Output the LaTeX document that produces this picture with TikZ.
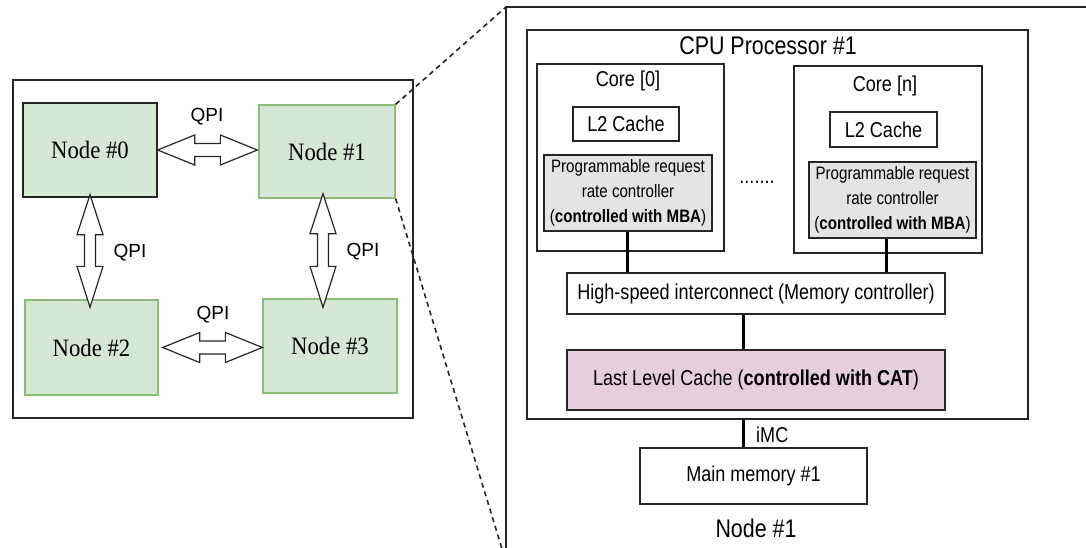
\documentclass[tikz,border=0pt]{standalone}
\usepackage{fontspec}
\setmainfont[FakeStretch=0.84]{Liberation Sans}
\newfontfamily\plainsans{Liberation Sans}
\newfontfamily\nodeserif[FakeStretch=0.91]{Liberation Serif}
\usetikzlibrary{calc}

\definecolor{nodegreen}{HTML}{D5E8D4}
\definecolor{nodegreenline}{HTML}{8DBB78}
\definecolor{llcpink}{HTML}{E6CEDD}
\definecolor{ctrlgray}{HTML}{E4E4E4}

\tikzset{
  frame/.style={draw=black!85, line width=1.8pt},
  numa/.style={draw=nodegreenline, line width=1.3pt, fill=nodegreen, inner sep=0pt,
    font=\nodeserif\fontsize{25}{28}\selectfont},
  unit/.style={draw=black!85, line width=1.4pt, inner sep=0pt, fill=white},
  ctrl/.style={unit, fill=ctrlgray, align=center,
    font=\fontsize{18}{25}\selectfont},
  lbl/.style={inner sep=0pt},
  txt/.style={font=\fontsize{21.5}{24}\selectfont},
  big/.style={font=\fontsize{25.5}{28}\selectfont},
  qpi/.style={lbl, font=\plainsans\fontsize{19}{22}\selectfont},
  link/.style={draw=black, line width=3pt},
  zoomline/.style={draw=black!85, line width=1.6pt, dash pattern=on 5pt off 4pt},
  qpiarrow/.style={draw=black!85, line width=1.2pt, fill=white, line join=miter},
}

% horizontal double arrow between two anchors (left tip, right tip)
\newcommand\hqpi[2]{%
  \path[qpiarrow] let \p1=#1, \p2=#2 in
    (\x1,\y1) -- (\x1+37pt,\y1+15pt) -- (\x1+37pt,\y1+6.5pt) --
    (\x2-37pt,\y1+6.5pt) -- (\x2-37pt,\y1+15pt) -- (\x2,\y1) --
    (\x2-37pt,\y1-15pt) -- (\x2-37pt,\y1-6.5pt) --
    (\x1+37pt,\y1-6.5pt) -- (\x1+37pt,\y1-15pt) -- cycle;}
% vertical double arrow between two anchors (top tip, bottom tip)
\newcommand\vqpi[2]{%
  \path[qpiarrow] let \p1=#1, \p2=#2 in
    (\x1,\y1) -- (\x1+13pt,\y1-40pt) -- (\x1+5.5pt,\y1-40pt) --
    (\x1+5.5pt,\y2+41pt) -- (\x1+13pt,\y2+41pt) -- (\x1,\y2) --
    (\x1-13pt,\y2+41pt) -- (\x1-5.5pt,\y2+41pt) --
    (\x1-5.5pt,\y1-40pt) -- (\x1-13pt,\y1-40pt) -- cycle;}

\begin{document}
\begin{tikzpicture}[x=1pt, y=-1pt]
\useasboundingbox (0,0) rectangle (1086,548);

% ---------------- four-node system ----------------
\node[frame, minimum width=400pt, minimum height=338pt, inner sep=0pt] (sys) at (213,249) {};

\node[numa, draw=black!85, minimum width=134pt, minimum height=94pt] (n0) at (90,150) {Node \#0};
\node[numa, minimum width=136pt, minimum height=93pt] (n1) at (327,151.5) {Node \#1};
\node[numa, minimum width=133pt, minimum height=95pt] (n2) at (91.5,347.5) {Node \#2};
\node[numa, minimum width=134pt, minimum height=94pt] (n3) at (330,346) {Node \#3};

\hqpi{(n0.east)}{([xshift=-1pt]n1.west)}
\hqpi{([xshift=4pt]n2.east)}{([yshift=1.5pt]n3.west)}
\vqpi{([yshift=3pt]n0.south)}{([yshift=-8pt]n2.north)}
\vqpi{([xshift=-4pt,yshift=5pt]n1.south)}{([yshift=-9pt]n3.north)}

\node[qpi] (q01) at (207,117) {QPI};
\node[qpi] (q02) at (130,253) {QPI};
\node[qpi] (q13) at (363,252) {QPI};
\node[qpi] (q23) at (213,315) {QPI};

% ---------------- zoomed view of node #1 ----------------
\coordinate (zt) at (506,7);
\coordinate (zb) at (506,549);
\coordinate (zr) at (1087,7);
\draw[frame] (zb) -- (zt) -- (zr);

\coordinate (zbtip) at (502,549);
\draw[zoomline] (n1.north east) -- (zt);
\draw[zoomline] (n1.south east) -- (zbtip);

\node[unit, line width=1.6pt, minimum width=501pt, minimum height=389pt] (cpu) at (777.5,224.5) {};
\node[lbl, big] (cputitle) at (768,46) {CPU Processor \#1};

\node[unit, minimum width=187pt, minimum height=187pt] (core0) at (630.5,157.5) {};
\node[lbl, txt] (core0t) at (628,81) {Core [0]};
\node[unit, txt, minimum width=106pt, minimum height=34pt] (l2a) at (626,124) {L2 Cache};
\node[ctrl, minimum width=168pt, minimum height=76pt] (prog0) at (628,193)
  {Programmable request\\rate controller\\(\textbf{controlled with MBA})};

\node[unit, minimum width=188pt, minimum height=187pt] (coren) at (888,159.5) {};
\node[lbl, txt] (corent) at (885,86) {Core [n]};
\node[unit, txt, minimum width=107pt, minimum height=35pt] (l2b) at (883.5,129.5) {L2 Cache};
\node[ctrl, minimum width=167pt, minimum height=76pt] (progn) at (892.5,200)
  {Programmable request\\rate controller\\(\textbf{controlled with MBA})};

\node[lbl, txt] (dots) at (757,182) {.......};

\node[unit, txt, minimum width=378pt, minimum height=41pt] (ic) at (756,293.5)
  {High-speed interconnect (Memory controller)};
\node[unit, txt, fill=llcpink, minimum width=378pt, minimum height=60pt] (llc) at (756,380)
  {Last Level Cache (\textbf{controlled with CAT})};

\node[unit, txt, minimum width=227pt, minimum height=56pt] (mem) at (753.5,476)
  {Main memory \#1};
\node[lbl, big] (nodeone) at (756,528) {Node \#1};

% links inside the processor
\draw[link] ([xshift=-1pt]prog0.south) -- ([xshift=-1pt]prog0.south |- ic.north);
\draw[link] ([xshift=-6.5pt]progn.south) -- ([xshift=-6.5pt]progn.south |- ic.north);
\draw[link] ([xshift=-13pt]ic.south) -- ([xshift=-13pt]ic.south |- llc.north);
\coordinate (imctop) at (743,419);
\draw[link] (imctop) -- (imctop |- mem.north);
\node[lbl, anchor=west, txt] (imc) at (756,435) {iMC};
\end{tikzpicture}
\end{document}
